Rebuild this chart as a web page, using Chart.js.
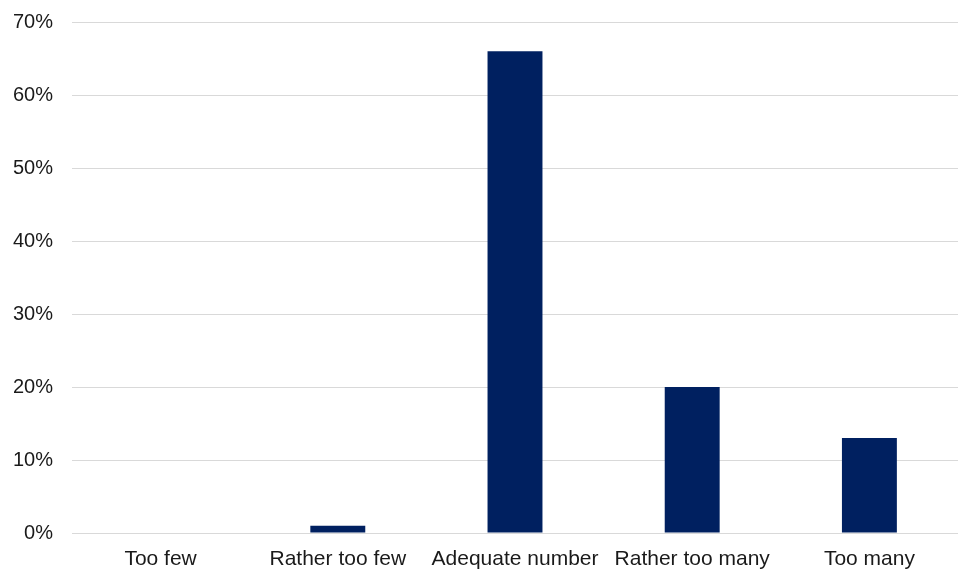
<!DOCTYPE html>
<html>
<head>
<meta charset="utf-8">
<script src="https://cdn.jsdelivr.net/npm/chart.js@4/dist/chart.umd.min.js"></script>
<style>
  html, body { margin: 0; padding: 0; background: #ffffff; }
  #wrap { width: 959px; height: 571px; position: relative; }
</style>
</head>
<body>
<div id="wrap"><canvas id="chart" width="959" height="571"></canvas></div>
<script>
// Survey answers and their shares (percent)
const categories = ["Too few", "Rather too few", "Adequate number", "Rather too many", "Too many"];
const shares = [0, 1, 66, 20, 13];
const yTicks = [0, 10, 20, 30, 40, 50, 60, 70];

const barColor = "#002060";
const gridColor = "#d9d9d9";
const textColor = "#1a1a1a";
const fontFamily = "'Liberation Sans', Arial, Helvetica, sans-serif";

new Chart(document.getElementById("chart"), {
  type: "bar",
  data: {
    labels: categories,
    datasets: [{
      data: shares,
      backgroundColor: barColor,
      borderWidth: 0,
      categoryPercentage: 1.0,
      barPercentage: 0.31
    }]
  },
  options: {
    responsive: false,
    animation: false,
    layout: { padding: { top: 22, right: 1, bottom: 2, left: 0 } },
    plugins: {
      legend: { display: false },
      tooltip: { enabled: false }
    },
    scales: {
      x: {
        // fixed band for the category labels under the plot
        afterFit: (axis) => { axis.height = 36; axis.paddingLeft = 0; axis.paddingRight = 0; },
        grid: { display: false, drawTicks: false },
        border: { display: false },
        ticks: {
          color: textColor,
          font: { family: fontFamily, size: 21 },
          padding: 14,
          maxRotation: 0,
          autoSkip: false
        }
      },
      y: {
        min: 0,
        max: 70,
        afterBuildTicks: (axis) => { axis.ticks = yTicks.map(v => ({ value: v })); },
        // fixed gutter for the percent labels; no extra overhang above/below
        afterFit: (axis) => { axis.width = 72; axis.paddingTop = 0; axis.paddingBottom = 0; },
        grid: { color: gridColor, lineWidth: 1, drawTicks: false },
        border: { display: false },
        ticks: {
          color: textColor,
          font: { family: fontFamily, size: 20 },
          padding: 19,
          callback: (v) => v + "%"
        }
      }
    }
  }
});
</script>
</body>
</html>
